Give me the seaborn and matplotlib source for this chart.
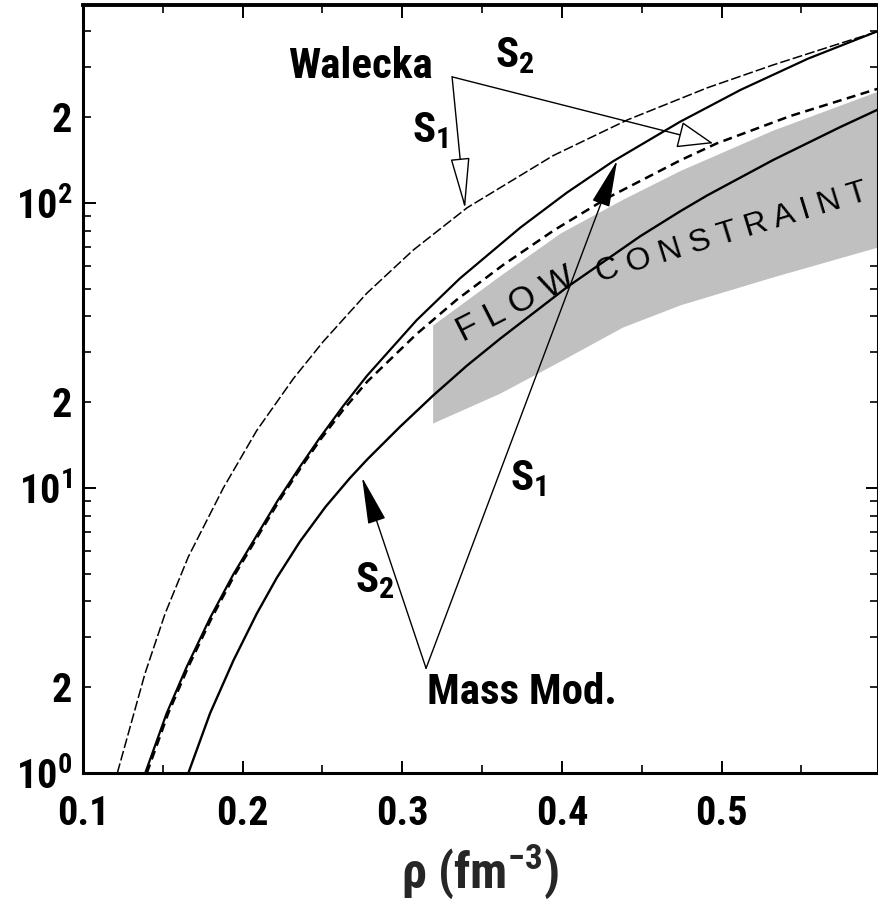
import matplotlib
matplotlib.use("Agg")
import matplotlib.pyplot as plt
import pandas as pd
import seaborn as sns
from matplotlib import font_manager

# ---- pressure P versus baryon density rho (fm^-3) for the four equations of state
walecka_s1_rho = [0.1215, 0.1388, 0.1514, 0.166, 0.1879, 0.2088, 0.2318, 0.2504, 0.2779,
                  0.3068, 0.3406, 0.3945, 0.4409, 0.491, 0.5323, 0.5743, 0.5981]
walecka_s1_p = [1.0, 2.23, 3.62, 5.74, 10.0, 15.9, 24.2, 32.6, 48.3,
                68.3, 96.2, 146.6, 195.5, 253.5, 305, 363, 400]

walecka_s2_rho = [0.140, 0.1534, 0.166, 0.1806, 0.1952, 0.223, 0.237, 0.249, 0.263,
                  0.278, 0.309, 0.334, 0.363, 0.395, 0.428, 0.474, 0.497, 0.543, 0.598]
walecka_s2_p = [1.0, 1.62, 2.36, 3.5, 4.98, 9.04, 11.9, 14.86, 18.8,
                23.6, 34.7, 45.7, 60.5, 80.2, 103.8, 141, 161.8, 201.8, 251.8]

massmod_s1_rho = [0.139, 0.1524, 0.165, 0.1796, 0.1942, 0.222, 0.236, 0.248, 0.263,
                  0.278, 0.309, 0.336, 0.374, 0.403, 0.432, 0.474, 0.512, 0.554, 0.598]
massmod_s1_p = [1.0, 1.62, 2.36, 3.5, 4.98, 9.04, 11.9, 14.9, 19.4,
                24.8, 38.8, 54.3, 82.0, 108.6, 140, 192.7, 249.5, 320.6, 401]

massmod_s2_rho = [0.166, 0.1796, 0.1942, 0.2088, 0.2214, 0.236, 0.252, 0.2673, 0.2779,
                  0.2986, 0.3193, 0.3406, 0.3613, 0.4033, 0.449, 0.4741, 0.491, 0.5323,
                  0.5743, 0.5981]
massmod_s2_p = [1.0, 1.62, 2.48, 3.62, 4.84, 6.5, 8.6, 10.85, 12.57,
                16.4, 21.1, 26.9, 33.4, 50.7, 76.4, 93.5, 106.3, 141.5,
                184.6, 212.9]

# ---- region allowed by the flow data
flow_rho = [0.319, 0.361, 0.399, 0.438, 0.474, 0.532, 0.598]
flow_p_high = [37.3, 55.5, 78.5, 103, 130, 180, 247]
flow_p_low = [16.9, 21.5, 27.9, 36.7, 43.9, 55.0, 70.1]

# ---- axis ticks
x_major = [0.1, 0.2, 0.3, 0.4, 0.5]
x_major_labels = ["0.1", "0.2", "0.3", "0.4", "0.5"]
x_minor = [0.15, 0.25, 0.35, 0.45, 0.55]
y_major = [1, 10, 100]
y_major_labels = [r"$\mathregular{10^0}$", r"$\mathregular{10^1}$", r"$\mathregular{10^2}$"]
y_minor = [2, 3, 4, 5, 6, 7, 8, 9, 20, 30, 40, 50, 60, 70, 80, 90, 200, 300, 400]
y_minor_labels = ["2", "", "", "", "", "", "", "", "2", "", "", "", "", "", "", "",
                  "2", "", ""]


def condensed_family():
    """Pick a narrow sans-serif face if one is installed."""
    fonts = font_manager.fontManager.ttflist
    names = {f.name for f in fonts}
    for name in ["Liberation Sans Narrow", "Roboto Condensed", "Open Sans Condensed",
                 "DejaVu Sans Condensed", "Noto Sans Condensed"]:
        if name in names:
            return name, "normal"
    for f in fonts:
        if f.stretch == "condensed" and f.name in ("DejaVu Sans", "Roboto", "Open Sans",
                                                   "Noto Sans", "Liberation Sans"):
            return f.name, "condensed"
    return None, None


sns.set_theme(style="ticks")
family, stretch = condensed_family()
if family is None:
    family, stretch = "Liberation Sans", "normal"
    label_size, tick_size, xlabel_size = 27, 25, 33
else:
    label_size, tick_size, xlabel_size = 31, 29, 36
plt.rcParams["font.family"] = [family, "DejaVu Sans"]
plt.rcParams["font.stretch"] = stretch
plt.rcParams["font.weight"] = "bold"
plt.rcParams["axes.edgecolor"] = "black"
plt.rcParams["text.color"] = "black"

fig = plt.figure(figsize=(8.79, 9.17), dpi=100)
ax = fig.add_axes([83 / 879, 1 - 773 / 917, 795 / 879, 768 / 917])

ax.fill_between(flow_rho, flow_p_low, flow_p_high, color="#c0c0c0", lw=0, zorder=1)

curves = pd.concat([
    pd.DataFrame({"rho": walecka_s1_rho, "P": walecka_s1_p, "eos": "Walecka S1"}),
    pd.DataFrame({"rho": walecka_s2_rho, "P": walecka_s2_p, "eos": "Walecka S2"}),
    pd.DataFrame({"rho": massmod_s1_rho, "P": massmod_s1_p, "eos": "Mass Mod. S1"}),
    pd.DataFrame({"rho": massmod_s2_rho, "P": massmod_s2_p, "eos": "Mass Mod. S2"}),
], ignore_index=True)

order = ["Walecka S1", "Walecka S2", "Mass Mod. S1", "Mass Mod. S2"]
sns.lineplot(
    data=curves, x="rho", y="P", hue="eos", style="eos", size="eos",
    hue_order=order, style_order=order, size_order=order,
    palette={k: "black" for k in order},
    dashes={"Walecka S1": (6.5, 2.0), "Walecka S2": (3.6, 2.2),
            "Mass Mod. S1": "", "Mass Mod. S2": ""},
    sizes={"Walecka S1": 1.1, "Walecka S2": 1.8, "Mass Mod. S1": 1.6, "Mass Mod. S2": 1.7},
    sort=False, estimator=None, legend=False, ax=ax, zorder=3,
)

ax.set_yscale("log")
ax.set_xlim(0.1, 0.598)
ax.set_ylim(1, 495)


def pointer(start, end, filled, head_length, head_width):
    ax.annotate(
        "", xy=end, xytext=start, zorder=5,
        arrowprops=dict(
            arrowstyle=f"-|>,head_length={head_length},head_width={head_width}",
            lw=1.0, ec="black", fc="black" if filled else "white",
            shrinkA=0, shrinkB=0, mutation_scale=10,
        ),
    )


# Walecka labels with open heads
pointer((0.3312, 277), (0.3393, 95.5), False, 3.3, 0.62)
pointer((0.3312, 277), (0.4947, 162), False, 2.3, 0.86)
# Mass-modified labels with filled heads
pointer((0.3149, 2.33), (0.2748, 10.9), True, 3.0, 0.58)
pointer((0.3149, 2.33), (0.4346, 141), True, 3.0, 0.58)

label_kw = dict(fontsize=label_size, fontweight="bold", ha="center", va="center", zorder=6)
ax.text(0.2736, 300, "Walecka", **label_kw)
ax.text(0.3174, 180, r"S$\mathregular{_1}$", **label_kw)
ax.text(0.3707, 330, r"S$\mathregular{_2}$", **label_kw)
ax.text(0.3751, 1.92, "Mass Mod.", **label_kw)
ax.text(0.2830, 4.75, r"S$\mathregular{_2}$", **label_kw)
ax.text(0.3788, 10.8, r"S$\mathregular{_1}$", **label_kw)

band_kw = dict(fontweight="normal", family=["Liberation Sans", "DejaVu Sans"], stretch="normal",
               ha="center", va="center", rotation_mode="anchor", zorder=4)
ax.text(0.3713, 44.2, "F L O W", rotation=27, fontsize=25, **band_kw)
ax.text(0.5065, 78.5, "C O N S T R A I N T", rotation=17, fontsize=23, **band_kw)

ax.set_xticks(x_major, labels=x_major_labels)
ax.set_xticks(x_minor, minor=True)
ax.set_yticks(y_major, labels=y_major_labels)
ax.set_yticks(y_minor, labels=y_minor_labels, minor=True)

ax.tick_params(axis="both", which="both", direction="in", top=True, right=True,
               colors="black", labelsize=tick_size)
ax.tick_params(axis="both", which="major", length=9, width=1.4)
ax.tick_params(axis="both", which="minor", length=6, width=1.2)
ax.tick_params(axis="x", which="both", pad=16)
ax.tick_params(axis="y", which="both", pad=8)
for lab in ax.get_xticklabels() + ax.get_yticklabels() + ax.get_yticklabels(minor=True):
    lab.set_fontweight("bold")

for side in ["left", "bottom", "right"]:
    ax.spines[side].set_linewidth(2.2)
    ax.spines[side].set_color("black")
ax.spines["top"].set_linewidth(2.8)
ax.spines["top"].set_color("black")

ax.set_ylabel("")
ax.set_xlabel(r"ρ (fm$\mathregular{^{-3}}$)", fontsize=xlabel_size, fontweight="bold", va="center")
ax.xaxis.set_label_coords(0.5, -0.129)

fig.savefig("out.png", dpi=100, facecolor="white")
